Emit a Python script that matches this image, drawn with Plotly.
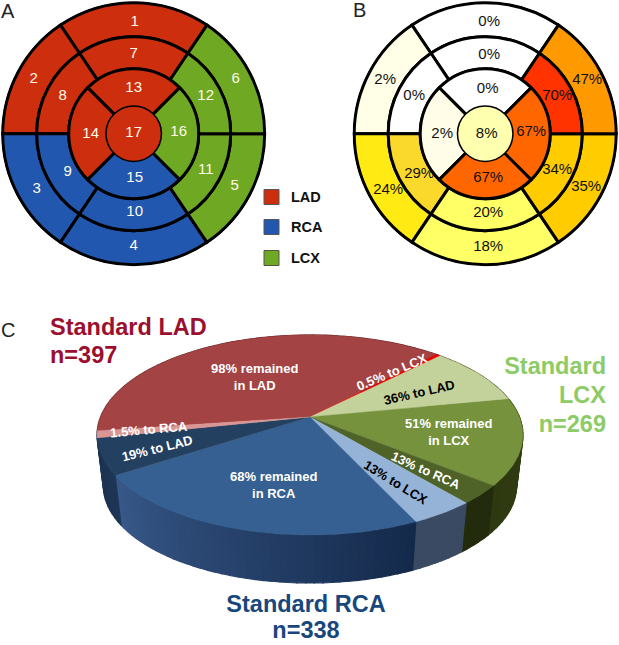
import math
import plotly.graph_objects as go

# ---------- bullseye data ----------
seg_ids   = [1, 2, 3, 4, 5, 6, 7, 8, 9, 10, 11, 12, 13, 14, 15, 16, 17]
territory = ["LAD", "LAD", "RCA", "RCA", "LCX", "LCX", "LAD", "LAD", "RCA", "RCA", "LCX", "LCX",
             "LAD", "LAD", "RCA", "LCX", "LAD"]
percent   = [0, 2, 24, 18, 35, 47, 0, 0, 29, 20, 34, 70, 0, 2, 67, 67, 8]
heat_col  = ["#ffffff", "#fffee6", "#ffea14", "#ffff66", "#ffcc00", "#ff9900", "#ffffff", "#ffffff",
             "#fbd92c", "#ffff66", "#ffcc00", "#ff3300", "#ffffff", "#fffde8", "#ff6600", "#ff6600", "#ffffb0"]
terr_col  = {"LAD": "#cc2e0e", "RCA": "#2157ae", "LCX": "#6fa823"}

ring_in   = [97]*6 + [65]*6 + [27]*4 + [0]
ring_out  = [131]*6 + [97]*6 + [65]*4 + [27]
seg_theta = [0, 298, 242, 180, 118, 62, 0, 298, 242, 180, 118, 62, 0, 270, 180, 90, 0]
seg_width = [68, 56, 56, 68, 56, 56, 68, 56, 56, 68, 56, 56, 90, 90, 90, 90, 360]
seg_line  = [3]*16 + [0]

a_dx = [1, -100, -97, 0, 101, 102, 0, -71, -66, 1, 72, 72, 0, -43, 1, 45, 0]
a_dy = [-111, -54, 56, 113, 53, -54, -79, -37, 39, 79, 37, -37, -45, 1, 45, -1, 0]
b_dx = [4, -100, -97, 3, 101, 102, 4, -71, -66, 3, 72, 72, 2.5, -43, 3, 46, 1.5]
b_dy = [-111, -53, 57, 114, 54, -53, -78, -37, 41, 80, 37, -37, -44, 1, 45, -1, 1]

# ---------- pie data (slice spans, degrees clockwise) ----------
slice_names = ["98% LAD", "0.5% to LCX", "36% to LAD", "51% LCX", "13% to RCA", "13% to LCX",
               "68% RCA", "19% to LAD", "1.5% to RCA"]
slice_deg   = [141, 1.5, 34.5, 50, 11, 15, 82, 21, 4]
slice_col   = ["#a44343", "#ee0000", "#c3d19a", "#76923c", "#4f6228", "#95b3d7", "#366092", "#244061", "#d99694"]
side_from   = ["#6e2c2c", "#800000", "#5a6333", "#343f14", "#232b0d", "#3a4a62", "#14294a", "#1f3656", "#1f3656"]
side_to     = ["#6e2c2c", "#800000", "#5a6333", "#2f3911", "#232b0d", "#3a4a62", "#38598a", "#1c3150", "#1c3150"]
pie_start   = 262.0

pie_text  = ["98% remained<br>in LAD", "0.5% to LCX", "36% to LAD", "51% remained<br>in LCX", "13% to RCA",
             "13% to LCX", "68% remained<br>in RCA", "19% to LAD", "1.5% to RCA"]
pie_tx    = [254, 391, 419, 448, 426, 396, 273, 157, 149]
pie_ty    = [377, 372, 392, 432, 470, 482, 485, 448, 429]
pie_rot   = [0, -23, -13, 0, 24, 31.5, 0, -14, -5]
pie_tcol  = ["white", "white", "black", "white", "white", "black", "white", "white", "white"]

title_text  = ["Standard LAD", "n=397", "Standard", "LCX", "n=269", "Standard RCA", "n=338"]
title_x     = [50, 50, 606, 606, 606, 306, 306]
title_y     = [329, 357, 368, 397, 426, 606, 632]
title_pos   = ["middle right", "middle right", "middle left", "middle left", "middle left",
               "middle center", "middle center"]
title_col   = ["#9c0f2f", "#9c0f2f", "#8ccb66", "#8ccb66", "#8ccb66", "#17477c", "#17477c"]

legend_names = ["LAD", "RCA", "LCX"]
legend_y     = [197, 227, 258]

W, H = 619, 645
FONT = "Liberation Sans"
fig = go.Figure()

# ---------- bullseyes ----------
CY = 133.7
R = 133


def add_bullseye(name, cx, colours, labels, dx, dy, tcol):
    for i in range(len(seg_ids)):
        fig.add_trace(go.Barpolar(
            r=[ring_out[i] - ring_in[i]], base=[ring_in[i]], theta=[seg_theta[i]], width=[seg_width[i]],
            marker=dict(color=colours[i], line=dict(color="black", width=seg_line[i])),
            subplot=name, hoverinfo="skip", showlegend=False))
    rr = [math.hypot(a, b) for a, b in zip(dx, dy)]
    tt = [math.degrees(math.atan2(a, -b)) % 360 for a, b in zip(dx, dy)]
    fig.add_trace(go.Scatterpolar(r=rr, theta=tt, text=labels, mode="text", subplot=name,
                                  textfont=dict(family=FONT, size=15, color=tcol),
                                  cliponaxis=False, hoverinfo="skip", showlegend=False))
    pol = dict(
        domain=dict(x=[(cx - R) / W, (cx + R) / W], y=[1 - (CY + R) / H, 1 - (CY - R) / H]),
        bgcolor="rgba(0,0,0,0)", hole=0,
        radialaxis=dict(visible=False, range=[0, R]),
        angularaxis=dict(visible=False, direction="clockwise", rotation=90, thetaunit="degrees"),
        bargap=0)
    fig.update_layout(**{name: pol})


add_bullseye("polar", 133.7, [terr_col[t] for t in territory], [str(s) for s in seg_ids], a_dx, a_dy, "#fffbe8")
add_bullseye("polar2", 485.2, heat_col, [f"{p}%" for p in percent], b_dx, b_dy, "#111111")

# ---------- legend ----------
fig.add_trace(go.Scatter(x=[271.5]*3, y=legend_y, mode="markers",
                         marker=dict(symbol="square", size=15, color=[terr_col[n] for n in legend_names],
                                     line=dict(color="#555555", width=1)),
                         hoverinfo="skip", showlegend=False))

# ---------- 3-D pie, tilted circle in perspective ----------
PCX, PCY, A, B, K = 310, 417, 209.5, 96.8, 0.18
SCALE, DROP = 0.97, 51.5


def project(theta_deg, low=False):
    t = math.radians(theta_deg)
    u, v = math.sin(t), math.cos(t)
    w = 1 + K * v
    x, y = A * u / w, B * v / w
    if low:
        x, y = x * SCALE, y * SCALE - DROP
    return PCX + x, PCY - y


def mix(c1, c2, f):
    a = [int(c1[i:i + 2], 16) for i in (1, 3, 5)]
    b = [int(c2[i:i + 2], 16) for i in (1, 3, 5)]
    return "#%02x%02x%02x" % tuple(round(p + (q - p) * f) for p, q in zip(a, b))


def poly(xs, ys, col, lw=0.4):
    fig.add_trace(go.Scatter(x=xs, y=ys, mode="lines", fill="toself", fillcolor=col,
                             line=dict(color=col, width=lw), hoverinfo="skip", showlegend=False))


edges = [pie_start]
for d in slice_deg:
    edges.append(edges[-1] + d)

# side wall first, top faces over it
for i, d in enumerate(slice_deg):
    a0, a1 = edges[i], edges[i + 1]
    steps = max(1, int(d / 2))
    for s in range(steps):
        t0 = a0 + d * s / steps
        t1 = a0 + d * (s + 1) / steps
        nt = [t0 + (t1 - t0) * j / 4 for j in range(5)]
        top = [project(t) for t in nt]
        low = [project(t, True) for t in reversed(nt)]
        pts = top + low + top[:1]
        poly([p[0] for p in pts], [p[1] for p in pts], mix(side_from[i], side_to[i], (s + .5) / steps), 1.2)

for i, d in enumerate(slice_deg):
    a0, a1 = edges[i], edges[i + 1]
    n = max(2, int(d * 2))
    pts = [(PCX, PCY)] + [project(a0 + d * j / n) for j in range(n + 1)] + [(PCX, PCY)]
    poly([p[0] for p in pts], [p[1] for p in pts], slice_col[i])

# ---------- titles ----------
fig.add_trace(go.Scatter(x=title_x, y=title_y, text=[f"<b>{t}</b>" for t in title_text], mode="text",
                         textposition=title_pos, cliponaxis=False,
                         textfont=dict(family=FONT, size=23.5, color=title_col),
                         hoverinfo="skip", showlegend=False))

# ---------- text ----------
ann = []
for tx, ty, txt, rot, col in zip(pie_tx, pie_ty, pie_text, pie_rot, pie_tcol):
    ann.append(dict(x=tx, y=ty, text=f"<b>{txt}</b>", textangle=rot, showarrow=False,
                    font=dict(family=FONT, size=13, color=col)))
for n, y in zip(legend_names, legend_y):
    ann.append(dict(x=289, y=y, text=f"<b>{n}</b>", showarrow=False, xanchor="left",
                    font=dict(family=FONT, size=14.5, color="#111111")))
for t, x, y in [("A", 8, 11), ("B", 359, 10), ("C", 8, 330)]:
    ann.append(dict(x=x, y=y, text=t, showarrow=False, font=dict(family=FONT, size=20, color="#222222")))

fig.update_layout(
    width=W, height=H, autosize=False, margin=dict(l=0, r=0, t=0, b=0),
    paper_bgcolor="white", plot_bgcolor="rgba(0,0,0,0)", showlegend=False, annotations=ann,
    xaxis=dict(range=[0, W], visible=False, domain=[0, 1], fixedrange=True),
    yaxis=dict(range=[H, 0], visible=False, domain=[0, 1], fixedrange=True))

fig.write_html("out.html", config={"displayModeBar": False},
               post_script="document.body.style.margin='0';document.body.style.overflow='hidden';")
